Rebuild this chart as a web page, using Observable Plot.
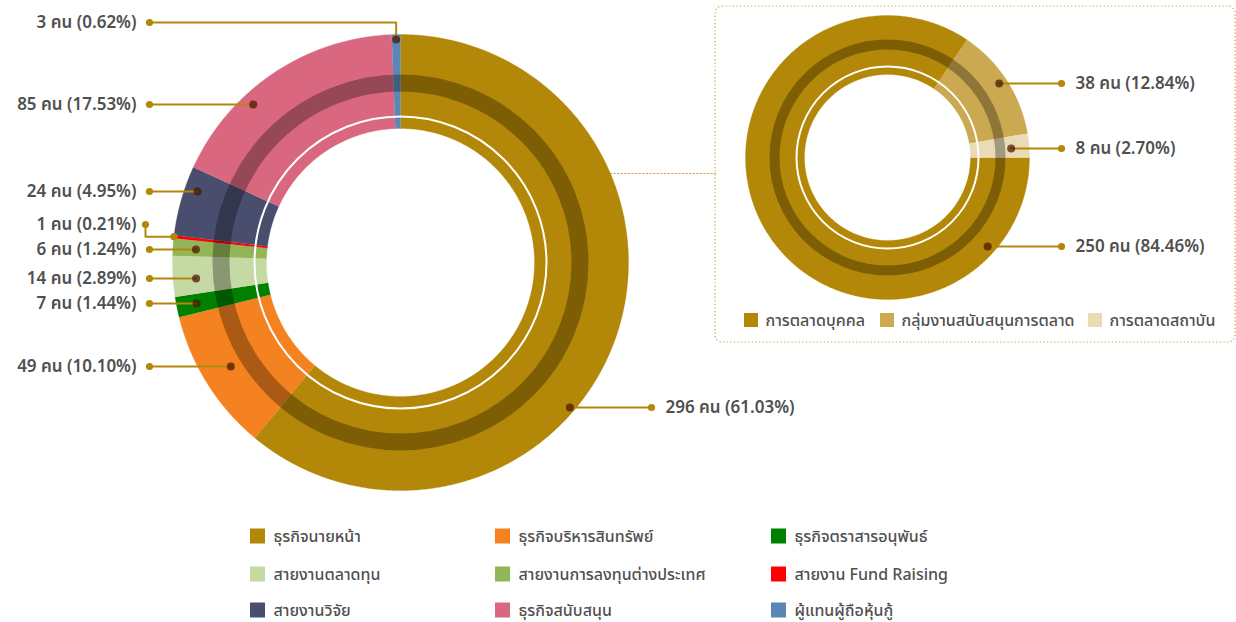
<!DOCTYPE html>
<html><head><meta charset="utf-8">
<script src="https://cdn.jsdelivr.net/npm/d3@7"></script>
<script src="https://cdn.jsdelivr.net/npm/@observablehq/plot@0.6"></script>
<style>
body{margin:0;background:#fff;}
#chart svg{display:block;font-family:"Noto Sans Thai","Noto Sans","Open Sans",sans-serif;}
</style>
</head><body><div id="chart"></div>
<script>
// ---- data ----
const categories = ["ธุรกิจนายหน้า","ธุรกิจบริหารสินทรัพย์","ธุรกิจตราสารอนุพันธ์","สายงานตลาดทุน","สายงานการลงทุนต่างประเทศ","สายงาน Fund Raising","สายงานวิจัย","ธุรกิจสนับสนุน","ผู้แทนผู้ถือหุ้นกู้"];
const counts = [296, 49, 7, 14, 6, 1, 24, 85, 3];
const colors = ["#b38707","#f58220","#008000","#c5d9a5","#92b558","#ff0000","#4a4e6e","#d9677f","#5a87b8"];

const subCategories = ["การตลาดบุคคล","กลุ่มงานสนับสนุนการตลาด","การตลาดสถาบัน"];
const subCounts = [250, 38, 8];
const subColors = ["#b38707","#cba951","#e9dbb5"];

// ---- layout ----
const W = 1236, H = 622;
const main = {cx: 400, cy: 262, R: 228, r0: 134, white: 146, band0: 171, band1: 188, start: 0};
const inset = {cx: 887, cy: 157, R: 142, r0: 83, white: 91, band0: 108, band1: 118, start: Math.PI / 2};
// label layout (y of each label, radius where its leader line meets the ring, leader style)
const mainLabelY = [407, 366, 303, 278, 249, 224, 191, 104, 22];
const mainAnchorR = [223, 199, 208, 205, 205, 228, 215, 216, 223];
const mainLeader = ["h", "h", "h", "h", "h", "vh", "h", "h", "hv"];
const insetLabelY = [246, 83, 148];
const insetAnchorR = [134, 134, 124];

const fmtPct = d3.format(".2f");
const gold = "#b38707";
const textColor = "#505050";

function slices(ring, values, cols, names) {
  const total = d3.sum(values);
  const arcs = d3.pie().sort(null).startAngle(ring.start).endAngle(ring.start + 2 * Math.PI)(values);
  const pts = [];
  arcs.forEach((a, i) => {
    const n = Math.max(2, Math.ceil((a.endAngle - a.startAngle) / (Math.PI / 360)));
    const outer = d3.range(n + 1).map(k => a.startAngle + (a.endAngle - a.startAngle) * k / n);
    for (const t of outer) pts.push({key: names[i], color: cols[i], x: ring.cx + ring.R * Math.sin(t), y: ring.cy - ring.R * Math.cos(t)});
    for (const t of outer.slice().reverse()) pts.push({key: names[i], color: cols[i], x: ring.cx + ring.r0 * Math.sin(t), y: ring.cy - ring.r0 * Math.cos(t)});
  });
  return {arcs, pts, total};
}

const M = slices(main, counts, colors, categories);
const S = slices(inset, subCounts, subColors, subCategories);

// leader lines
const leaders = [], goldDots = [], darkDots = [], labelsLeft = [], labelsRight = [];
M.arcs.forEach((a, i) => {
  const y = mainLabelY[i], r = mainAnchorR[i];
  const text = `${counts[i]} คน (${fmtPct(counts[i] / M.total * 100)}%)`;
  const right = i === 0;
  const style = mainLeader[i];
  if (style === "vh") {
    const mid = (a.startAngle + a.endAngle) / 2;
    const ax = main.cx + r * Math.sin(mid), ay = main.cy - r * Math.cos(mid);
    const lx = 145;
    [[lx, y], [lx, ay], [ax, ay]].forEach(([x, yy]) => leaders.push({id: "m" + i, x, y: yy}));
    goldDots.push({x: lx, y}); goldDots.push({x: ax, y: ay});
    labelsLeft.push({x: 136, y, text});
  } else if (style === "hv") {
    const mid = (a.startAngle + a.endAngle) / 2;
    const ax = main.cx + r * Math.sin(mid), ay = main.cy - r * Math.cos(mid);
    const lx = 149;
    [[lx, y], [ax, y], [ax, ay]].forEach(([x, yy]) => leaders.push({id: "m" + i, x, y: yy}));
    goldDots.push({x: lx, y}); darkDots.push({x: ax, y: ay});
    labelsLeft.push({x: 136, y, text});
  } else {
    const dx = Math.sqrt(r * r - (y - main.cy) ** 2);
    const ax = right ? main.cx + dx : main.cx - dx;
    const lx = right ? 651 : 149;
    leaders.push({id: "m" + i, x: lx, y}, {id: "m" + i, x: ax, y});
    goldDots.push({x: lx, y}); darkDots.push({x: ax, y});
    (right ? labelsRight : labelsLeft).push({x: right ? 665 : 136, y, text});
  }
});
S.arcs.forEach((a, i) => {
  const y = insetLabelY[i], r = insetAnchorR[i];
  const ax = inset.cx + Math.sqrt(r * r - (y - inset.cy) ** 2);
  leaders.push({id: "s" + i, x: 1061, y}, {id: "s" + i, x: ax, y});
  goldDots.push({x: 1061, y}); darkDots.push({x: ax, y});
  labelsRight.push({x: 1075, y, text: `${subCounts[i]} คน (${fmtPct(subCounts[i] / S.total * 100)}%)`});
});

// legends
const legendCols = [250, 495, 771], legendRows = [536, 574, 610];
const legendItems = categories.map((c, i) => ({name: c, color: colors[i], x: legendCols[i % 3], y: legendRows[Math.floor(i / 3)]}));
const insetLegendX = [744, 880, 1088];
const insetLegend = subCategories.map((c, i) => ({name: c, color: subColors[i], x: insetLegendX[i], y: 320}));

// connector + box
const connY = 173;
const connector = [{x: main.cx + Math.sqrt(main.R ** 2 - (connY - main.cy) ** 2), y: connY}, {x: 715, y: connY}];
const box = [{x1: 715, x2: 1235, y1: 6, y2: 342}];

const ringMarks = (ring) => [
  Plot.dot([ring], {x: "cx", y: "cy", r: (ring.band0 + ring.band1) / 2, fill: "none", stroke: "black", strokeOpacity: 0.3, strokeWidth: ring.band1 - ring.band0}),
  Plot.dot([ring], {x: "cx", y: "cy", r: ring.white, fill: "none", stroke: "white", strokeWidth: 2})
];

const labelStyle = {x: "x", y: "y", text: "text", fill: textColor, fontSize: 17, fontWeight: 600};
const legendStyle = {y: "y", text: "name", textAnchor: "start", fill: textColor, fontSize: 16, fontWeight: 500};

const chart = Plot.plot({
  width: W, height: H,
  margin: 0,
  x: {domain: [0, W], range: [0, W], axis: null},
  y: {domain: [0, H], range: [0, H], axis: null},
  color: {type: "identity"},
  marks: [
    Plot.rect(box, {x1: "x1", x2: "x2", y1: "y1", y2: "y2", fill: "none", stroke: "#c9a23c", strokeDasharray: "1.2,2.4", strokeWidth: 1.2, rx: 7}),
    Plot.line(connector, {x: "x", y: "y", stroke: "#c9a23c", strokeDasharray: "1.2,2.4", strokeWidth: 1.2}),
    Plot.line(M.pts, {x: "x", y: "y", z: "key", fill: "color", stroke: "color", strokeWidth: 0.3}),
    ...ringMarks(main),
    Plot.line(S.pts, {x: "x", y: "y", z: "key", fill: "color", stroke: "color", strokeWidth: 0.3}),
    ...ringMarks(inset),
    Plot.line(leaders, {x: "x", y: "y", z: "id", stroke: gold, strokeWidth: 2}),
    Plot.dot(goldDots, {x: "x", y: "y", r: 3.6, fill: gold}),
    Plot.dot(darkDots, {x: "x", y: "y", r: 4, fill: "#4a1500", fillOpacity: 0.72}),
    Plot.text(labelsLeft, {...labelStyle, textAnchor: "end"}),
    Plot.text(labelsRight, {...labelStyle, textAnchor: "start"}),
    Plot.rect(legendItems, {x1: d => d.x, x2: d => d.x + 15, y1: d => d.y - 7.5, y2: d => d.y + 7.5, fill: "color"}),
    Plot.text(legendItems, {...legendStyle, x: d => d.x + 23}),
    Plot.rect(insetLegend, {x1: d => d.x, x2: d => d.x + 14, y1: d => d.y - 7, y2: d => d.y + 7, fill: "color"}),
    Plot.text(insetLegend, {...legendStyle, x: d => d.x + 21})
  ]
});
document.getElementById("chart").append(chart);
</script>
</body></html>
